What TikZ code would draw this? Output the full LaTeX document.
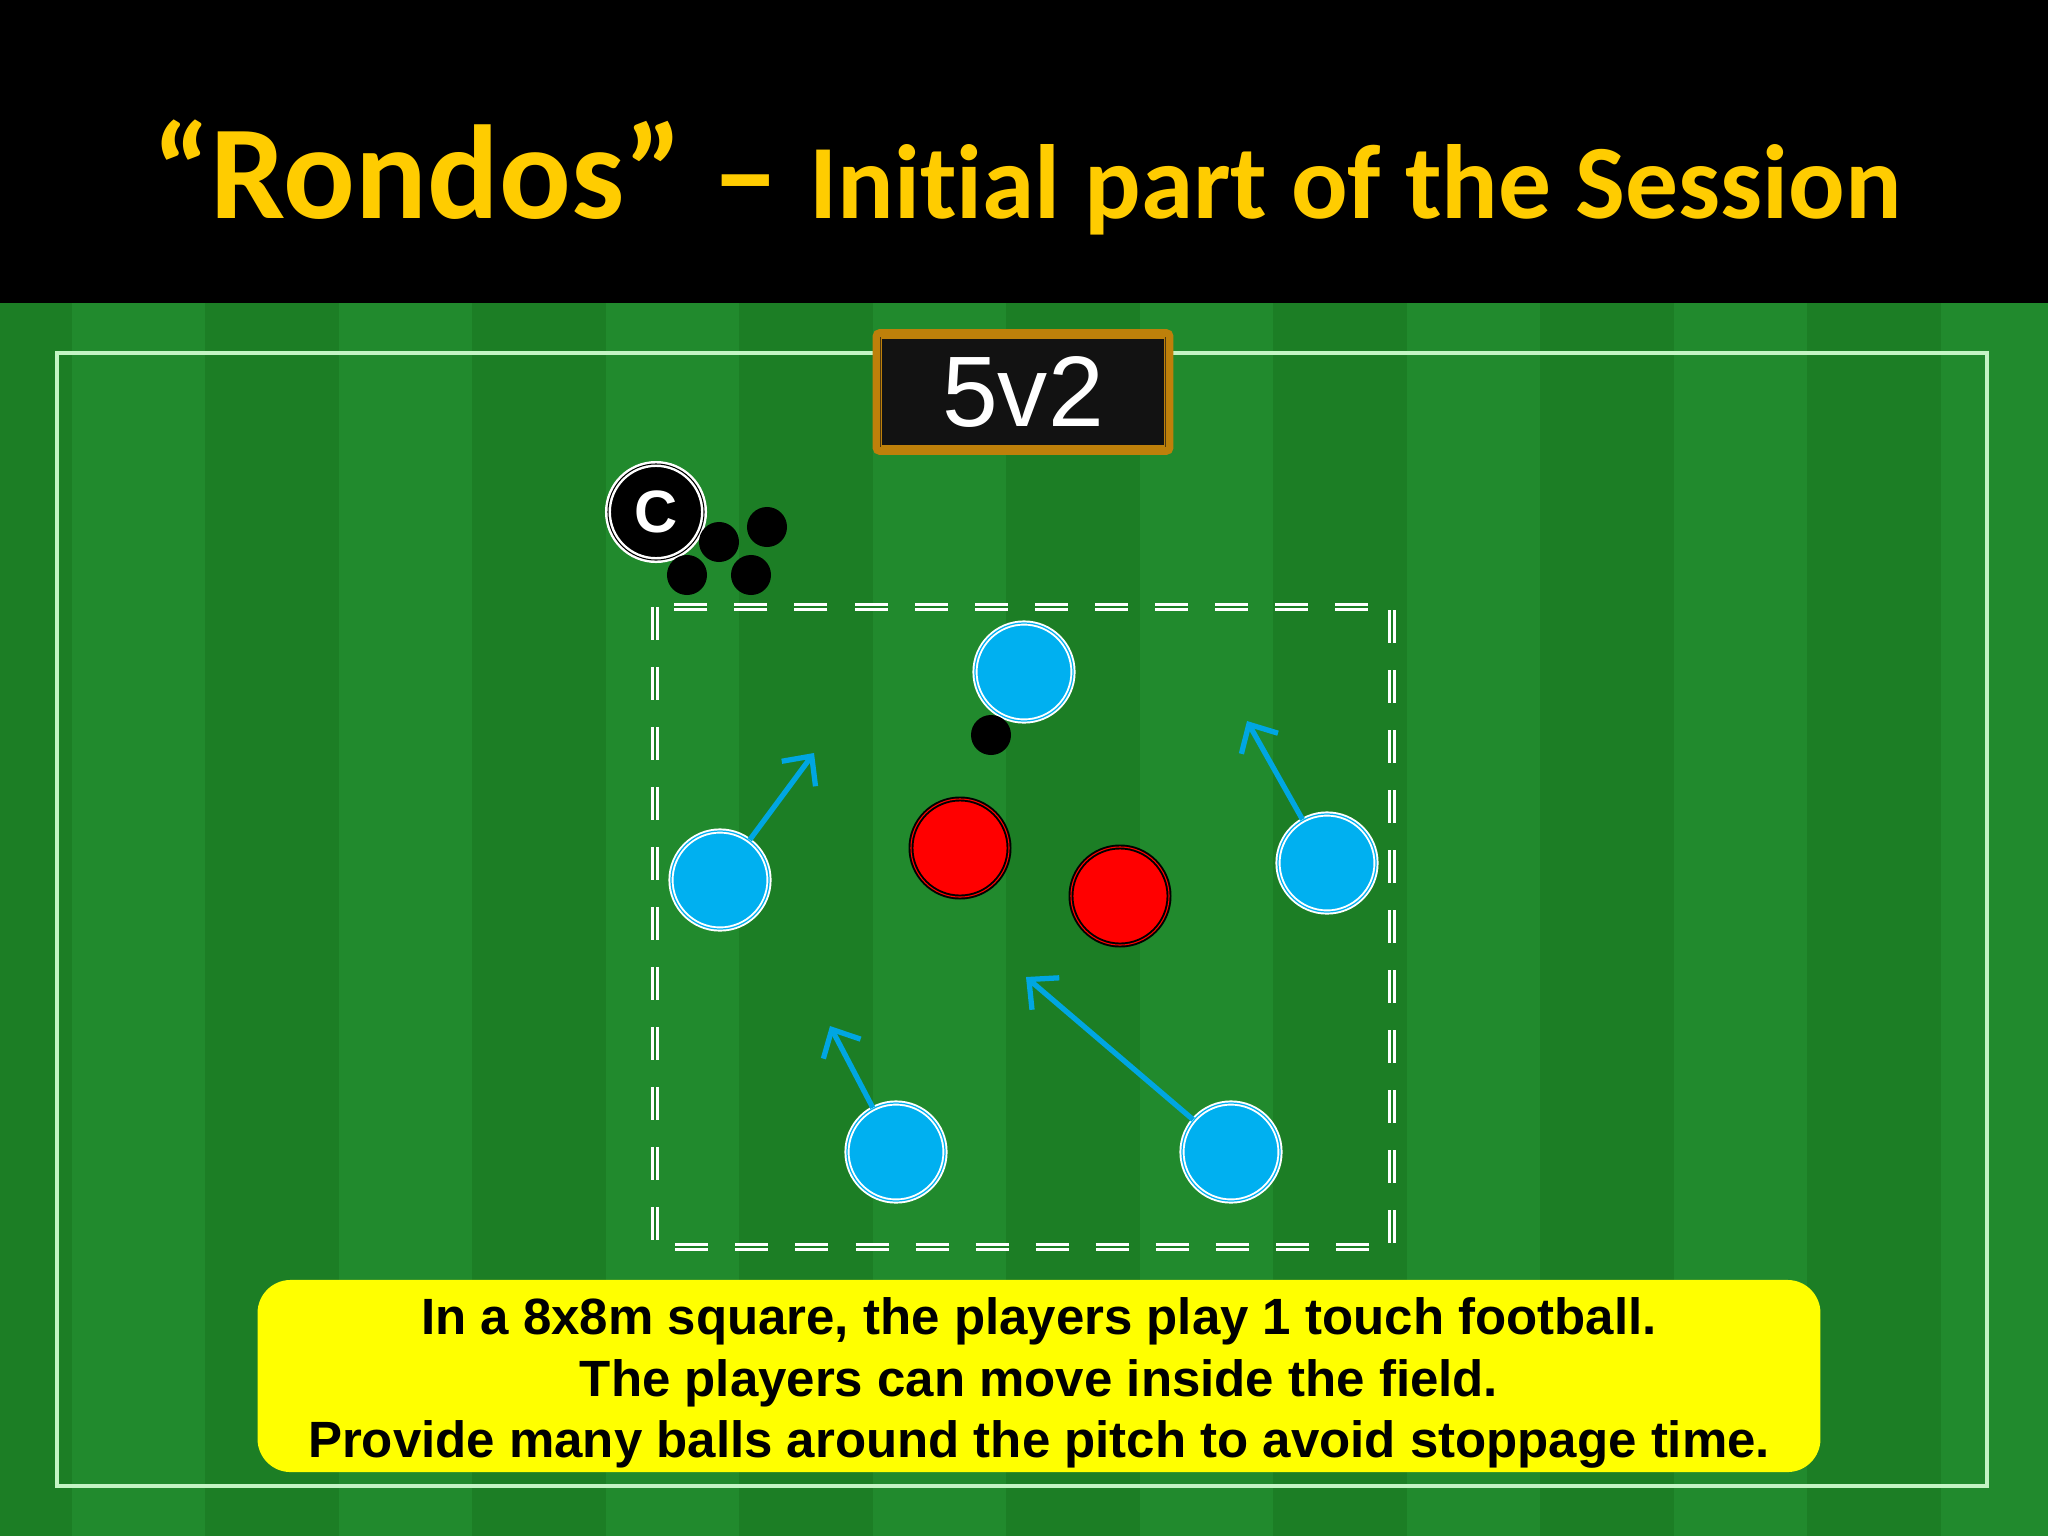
\documentclass[tikz,border=0pt]{standalone}
\usepackage{fontspec}
\setsansfont{Liberation Sans}
\newfontfamily\titlefont[Ligatures=NoCommon]{Carlito}
\usepackage{tikz}
\usetikzlibrary{arrows.meta,positioning,calc}
\definecolor{titleGold}{RGB}{255, 204, 0}
\definecolor{grassLight}{RGB}{33, 138, 45}
\definecolor{grassDark}{RGB}{28, 126, 37}
\definecolor{pitchLine}{RGB}{196, 244, 196}
\definecolor{boxGold}{RGB}{190, 128, 10}
\definecolor{playerBlue}{RGB}{0, 176, 240}
\definecolor{runBlue}{RGB}{0, 166, 226}
\definecolor{noteYellow}{RGB}{255, 255, 0}

\begin{document}
\begin{tikzpicture}[x=0.01cm,y=-0.01cm,
    attacker/.style={circle,fill=playerBlue,draw=white,line width=0.55pt,double=playerBlue,double distance=0.35pt,minimum size=0.98cm,inner sep=0pt},
    defender/.style={circle,fill=red,draw=black,line width=0.55pt,double=red,double distance=0.3pt,minimum size=0.98cm,inner sep=0pt},
    ball/.style={circle,fill=black,minimum size=0.4cm,inner sep=0pt},
    run/.style={runBlue,line width=1.5pt,-{Straight Barb[length=0.22cm,width=0.42cm,line width=1.5pt]}}]
    \useasboundingbox (0,0) rectangle (2048,1536);

    % Title band
    \fill[black] (0,0) rectangle (2048,303);
    \node[anchor=base west,inner sep=0pt,titleGold,font=\titlefont\bfseries\fontsize{38}{40}\selectfont] (title) at (152,218)
        {“Rondos” – {\fontsize{30}{32}\selectfont Initial part of the Session}};

    % Striped grass
    \fill[grassDark] (0,303) rectangle (2048,1536);
    \foreach \i in {0,...,7} {
        \fill[grassLight] ({72+267*\i},303) rectangle ({min(205+267*\i,2048)},1536);
    }

    % Pitch outline
    \draw[pitchLine,line width=1.1pt] (57,353) rectangle (1987,1486);

    % 8x8m square
    \draw[white,line width=0.9pt,double=grassDark,double distance=0.3pt,
          dash pattern=on 0.33cm off 0.27cm] (655,607) rectangle (1392,1247);

    % 5v2 label
    \node[fill=black!93,draw=boxGold,line width=2.2pt,rounded corners=1pt,
          minimum width=2.93cm,minimum height=1.18cm,inner sep=0pt,
          text=white,font=\sffamily\fontsize{28.5}{30}\selectfont] (label) at (1023,392) {5v2};
    \draw[boxGold,line width=0.5pt] ([shift={(9,9)}]label.north west) rectangle ([shift={(-9,-9)}]label.south east);

    % Coach and spare balls
    \node[circle,fill=black,draw=white,line width=0.7pt,double=black,double distance=0.3pt,
          minimum size=0.96cm,inner sep=0pt,
          text=white,font=\sffamily\bfseries\fontsize{17}{18}\selectfont] (coach) at (656,512) {C};
    \node[ball] (ball1) at (719,542) {};
    \node[ball] (ball2) at (767,527) {};
    \node[ball] (ball3) at (687,575) {};
    \node[ball] (ball4) at (751,575) {};

    % Players
    \node[attacker] (pTop) at (1024,672) {};
    \node[attacker] (pLeft) at (720,880) {};
    \node[attacker] (pRight) at (1327,863) {};
    \node[attacker] (pBotL) at (896,1152) {};
    \node[attacker] (pBotR) at (1231,1152) {};
    \node[defender] (dA) at (960,848) {};
    \node[defender] (dB) at (1120,896) {};
    \node[ball] (ballP) at (991,735) {};

    % Runs
    \coordinate (cLeft) at (814,753);
    \coordinate (cRight) at (1247,721);
    \coordinate (cBotL) at (830,1026);
    \coordinate (cBotR) at (1026,977);
    \draw[run] (pLeft) -- (cLeft);
    \draw[run] (pRight) -- (cRight);
    \draw[run] (pBotL) -- (cBotL);
    \draw[run] (pBotR) -- (cBotR);

    % Note
    \node[fill=noteYellow,rounded corners=0.33cm,minimum width=15.62cm,minimum height=1.92cm,
          inner sep=0pt] (note) at (1039,1376) {};
    \node[align=center,inner sep=0pt,font=\sffamily\bfseries\fontsize{14.5}{17.4}\selectfont] (notetext) at (1039,1383)
        {In a 8x8m square, the players play 1 touch football.\\
         The players can move inside the field.\\
         Provide many balls around the pitch to avoid stoppage time.};
\end{tikzpicture}
\end{document}
